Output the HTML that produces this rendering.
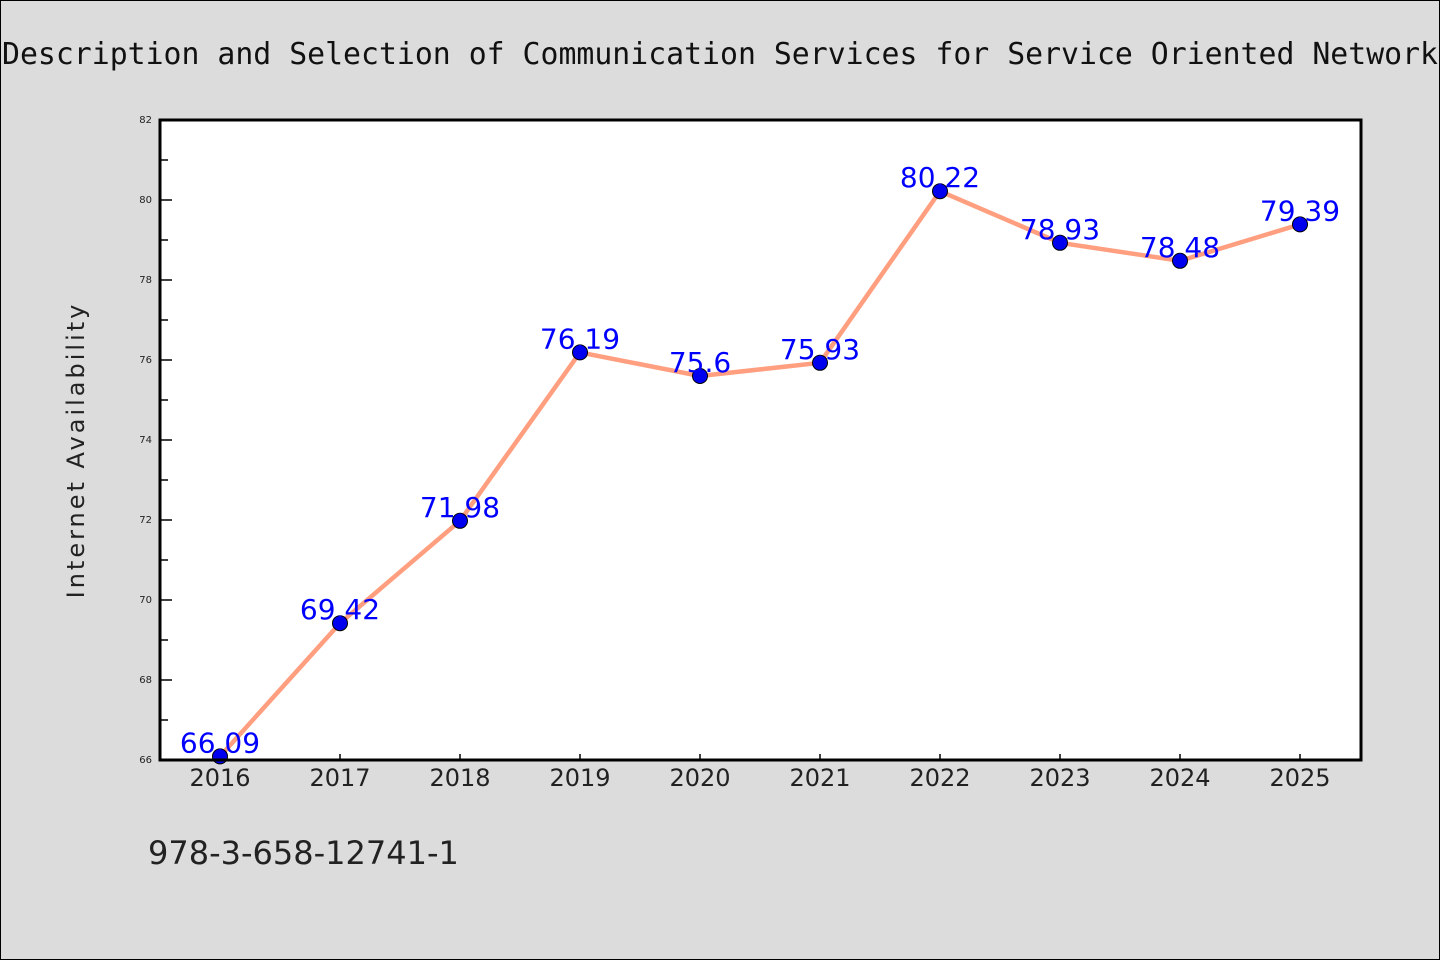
<!DOCTYPE html>
<html><head><meta charset="utf-8">
<style>
html,body{margin:0;padding:0;background:#dcdcdc;}
body{width:1440px;height:960px;overflow:hidden;position:relative;font-family:"WenQuanYi Zen Hei Mono","WenQuanYi Zen Hei","DejaVu Sans",sans-serif;}
#frame{position:absolute;left:0;top:0;width:1438px;height:958px;border:1px solid #000;}
svg text{font-family:"WenQuanYi Zen Hei Mono","WenQuanYi Zen Hei","DejaVu Sans",sans-serif;}
svg text.title{font-family:"WenQuanYi Zen Hei Mono","WenQuanYi Zen Hei","DejaVu Sans Mono",monospace;}
</style></head>
<body>
<div id="frame"></div>
<svg id="chart" width="1440" height="960" style="position:absolute;left:0;top:0">
<text class="title" x="720" y="64" text-anchor="middle" font-size="30" fill="#111" textLength="1436" lengthAdjust="spacingAndGlyphs">Description and Selection of Communication Services for Service Oriented Network</text>
<rect x="160" y="120" width="1201" height="640" fill="#fff"/>
<g id="axes"></g>
<g id="marks"></g>
<rect x="160" y="120" width="1201" height="640" fill="none" stroke="#000" stroke-width="3"/>
<text transform="translate(84,450) rotate(-90)" text-anchor="middle" font-size="24" fill="#222" letter-spacing="3">Internet Availability</text>
<text x="148" y="864" font-size="32" fill="#222">978-3-658-12741-1</text>
</svg>
<script>
const years = ["2016","2017","2018","2019","2020","2021","2022","2023","2024","2025"];
const values = [66.09,69.42,71.98,76.19,75.6,75.93,80.22,78.93,78.48,79.39];
const valueLabels = ["66.09","69.42","71.98","76.19","75.6","75.93","80.22","78.93","78.48","79.39"];
const yTicks = [66,68,70,72,74,76,78,80,82];
const yMin = 66, yMax = 82;
const NS = "http://www.w3.org/2000/svg";
const L=160,R=1361,T=120,B=760;
function xs(i){return 220+i*120;}
function ys(v){return B-(v-yMin)/(yMax-yMin)*(B-T);}
function mk(tag,attrs,parent){const e=document.createElementNS(NS,tag);for(const k in attrs)e.setAttribute(k,attrs[k]);parent.appendChild(e);return e;}
const axes=document.getElementById('axes'), marks=document.getElementById('marks');
yTicks.forEach((t,i)=>{
  const y=ys(t);
  const ln=mk('line',{x1:L,x2:L+12,y1:y,y2:y,stroke:'#000','stroke-width':1.5},axes);
  
  
  const tx=mk('text',{x:152,y:y+3,'text-anchor':'end','font-size':10,fill:'#222'},axes);
  tx.textContent=t;
  
  
  if(i<yTicks.length-1){
    const ym=ys(t+1);
    const mn=mk('line',{x1:L,x2:L+8,y1:ym,y2:ym,stroke:'#000','stroke-width':1.5},axes);
    
    
  }
});
years.forEach((yr,i)=>{
  const x=xs(i);
  const ln=mk('line',{x1:x,x2:x,y1:B,y2:B-6,stroke:'#000','stroke-width':1.5},axes);
  
  
  const tx=mk('text',{x:x,y:786,'text-anchor':'middle','font-size':24,fill:'#222'},axes);
  tx.textContent=yr;
  
  
});
const pts=values.map((v,i)=>xs(i)+','+ys(v)).join(' ');
const line=mk('polyline',{points:pts,fill:'none',stroke:'#ff9f7f','stroke-width':4.5,'stroke-linejoin':'round'},marks);


values.forEach((v,i)=>{
  const c=mk('circle',{cx:xs(i),cy:ys(v),r:7.5,fill:'#0000ee',stroke:'#000','stroke-width':1},marks);
  
  
});
values.forEach((v,i)=>{
  const t=mk('text',{x:xs(i),y:ys(v)-4,'text-anchor':'middle','font-size':28,fill:'#0000ff'},marks);
  t.textContent=valueLabels[i];
  
  
});
</script>
</body></html>
